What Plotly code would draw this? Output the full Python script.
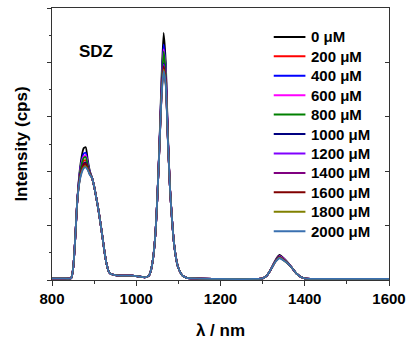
import plotly.graph_objects as go

# Emission wavelengths (nm)
wavelength = [800, 830, 845, 850, 855, 860,
              865, 870, 875, 880, 885, 890,
              895, 900, 905, 910, 915, 920, 925, 930, 935, 940, 950, 970, 990,
              1010, 1020, 1030, 1035, 1040, 1045, 1050,
              1055, 1060, 1065, 1070, 1075,
              1080, 1085, 1090, 1095, 1100, 1110, 1120, 1140, 1200, 1280, 1300, 1310, 1320,
              1330, 1340, 1350, 1360,
              1370, 1380, 1390, 1400, 1420, 1500, 1600]

# Spectral regions where all concentrations overlap
base_a = [0.03, 0.03, 0.03, 0.20, 0.75, 1.45]                      # 800-860
base_b = [1.88, 1.72, 1.52, 1.30, 1.05, 0.78, 0.50, 0.28, 0.15, 0.11,
          0.09, 0.08, 0.08, 0.06, 0.05, 0.08, 0.18, 0.40, 0.80, 1.50]  # 895-1050
base_c = [1.70, 1.10, 0.65, 0.38, 0.22, 0.08, 0.04, 0.03, 0.02, 0.02,
          0.03, 0.08, 0.20]                                          # 1080-1320
base_d = [0.22, 0.12, 0.06, 0.03, 0.02, 0.02, 0.02]                  # 1370-1600

concentrations = ["0 μM", "200 μM", "400 μM", "600 μM", "800 μM", "1000 μM",
                  "1200 μM", "1400 μM", "1600 μM", "1800 μM", "2000 μM"]

# Band near 880 nm (865-890 nm)
band_880 = [
    [1.95, 2.25, 2.42, 2.44, 2.20, 2.00],
    [1.85, 2.08, 2.19, 2.20, 2.08, 1.96],
    [1.92, 2.18, 2.32, 2.34, 2.15, 1.98],
    [1.90, 2.15, 2.27, 2.29, 2.12, 1.97],
    [1.89, 2.12, 2.24, 2.26, 2.11, 1.97],
    [1.83, 2.04, 2.14, 2.16, 2.06, 1.95],
    [1.82, 2.02, 2.11, 2.13, 2.05, 1.95],
    [1.81, 2.00, 2.09, 2.11, 2.04, 1.94],
    [1.82, 2.02, 2.12, 2.14, 2.05, 1.95],
    [1.80, 1.98, 2.07, 2.09, 2.03, 1.94],
    [1.79, 1.96, 2.05, 2.07, 2.02, 1.93],
]

# Band near 1064 nm (1055-1075 nm)
band_1064 = [
    [2.50, 3.70, 4.54, 4.00, 2.70],
    [2.45, 3.45, 4.02, 3.70, 2.62],
    [2.48, 3.58, 4.33, 3.88, 2.66],
    [2.47, 3.54, 4.24, 3.83, 2.65],
    [2.47, 3.52, 4.20, 3.80, 2.64],
    [2.44, 3.43, 3.98, 3.67, 2.61],
    [2.44, 3.42, 3.96, 3.66, 2.61],
    [2.43, 3.39, 3.90, 3.62, 2.60],
    [2.44, 3.41, 3.93, 3.64, 2.60],
    [2.43, 3.38, 3.87, 3.60, 2.59],
    [2.42, 3.36, 3.84, 3.58, 2.58],
]

# Band near 1340 nm (1330-1360 nm)
band_1340 = [
    [0.36, 0.46, 0.40, 0.32],
    [0.34, 0.43, 0.38, 0.31],
    [0.35, 0.44, 0.39, 0.31],
    [0.35, 0.44, 0.39, 0.31],
    [0.35, 0.43, 0.38, 0.31],
    [0.34, 0.42, 0.37, 0.30],
    [0.34, 0.42, 0.37, 0.30],
    [0.33, 0.41, 0.37, 0.30],
    [0.34, 0.42, 0.37, 0.30],
    [0.33, 0.41, 0.36, 0.30],
    [0.33, 0.40, 0.36, 0.30],
]

colors = ["#000000", "#ff0000", "#0000ff", "#ff00ff", "#008000", "#000080",
          "#8000ff", "#800080", "#800000", "#808000", "#3a70b0"]

font_bold = dict(family="Arial", size=15, color="black", weight="bold")
title_font = dict(family="Arial", size=17, color="black", weight="bold")

fig = go.Figure()

# Invisible anchor point so the right-hand axis (inward ticks) is drawn
fig.add_trace(go.Scatter(x=[800], y=[0], yaxis="y2", showlegend=False,
                         hoverinfo="skip", mode="markers",
                         marker=dict(size=1, opacity=0)))

for i, name in enumerate(concentrations):
    intensity = base_a + band_880[i] + base_b + band_1064[i] + base_c + band_1340[i] + base_d
    fig.add_trace(go.Scatter(
        x=wavelength, y=intensity, mode="lines", name=name,
        line=dict(color=colors[i], width=1.8, shape="spline", smoothing=0.6),
    ))

fig.add_annotation(x=905, y=4.2, text="SDZ", showarrow=False, font=title_font)

# Compact legend: short coloured line + label per concentration
leg_x0, leg_x1, leg_tx = 0.658, 0.752, 0.764
leg_top, leg_step = 244 / 273, 19.5 / 273
for i, name in enumerate(concentrations):
    yy = leg_top - i * leg_step
    fig.add_shape(type="line", xref="paper", yref="paper",
                  x0=leg_x0, x1=leg_x1, y0=yy, y1=yy,
                  line=dict(color=colors[i], width=2))
    fig.add_annotation(xref="paper", yref="paper", x=leg_tx, y=yy,
                       xanchor="left", yanchor="middle", text=name,
                       showarrow=False, font=font_bold)

axis_line = "#333333"
fig.update_layout(
    width=413, height=343,
    margin=dict(l=52, r=22, t=7, b=63),
    paper_bgcolor="white", plot_bgcolor="white",
    showlegend=False,
    xaxis=dict(
        range=[800, 1600], dtick=200, tick0=800,
        ticks="outside", ticklen=5, tickwidth=1.2, tickcolor=axis_line,
        minor=dict(dtick=100, ticks="outside", ticklen=3, tickcolor=axis_line),
        showline=True, linecolor=axis_line, linewidth=1.3, mirror=True,
        showgrid=False, zeroline=False,
        tickfont=font_bold,
        title=dict(text="λ / nm", font=title_font, standoff=17),
    ),
    yaxis=dict(
        range=[0, 5], dtick=1, tick0=0,
        ticks="outside", ticklen=4, tickwidth=1.2, tickcolor=axis_line,
        minor=dict(dtick=0.5, ticks="outside", ticklen=2, tickcolor=axis_line),
        showline=True, linecolor=axis_line, linewidth=1.3, mirror=True,
        showgrid=False, zeroline=False, showticklabels=False,
        title=dict(text="Intensity (cps)", font=title_font, standoff=14),
    ),
    yaxis2=dict(
        range=[0, 5], dtick=1, tick0=0, overlaying="y", side="right",
        ticks="inside", ticklen=4, tickwidth=1.2, tickcolor=axis_line,
        showline=False, showgrid=False, zeroline=False, showticklabels=False,
    ),
)

fig.write_html("out.html")
